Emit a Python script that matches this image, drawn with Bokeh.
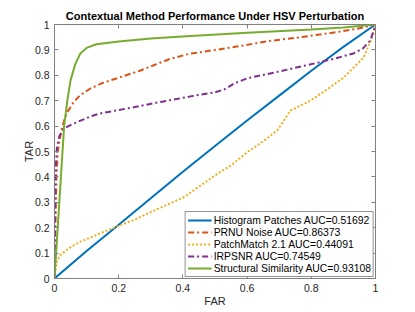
from bokeh.plotting import figure
from bokeh.models import Range1d, FixedTicker, LinearAxis
from bokeh.embed import file_html
from bokeh.resources import INLINE

# ---- data ----
hist_far = [0, 0.1, 0.2, 0.3, 0.4, 0.5, 0.6, 0.7, 0.8, 0.9, 1.0]
hist_tar = [0, 0.108, 0.212, 0.316, 0.42, 0.522, 0.622, 0.72, 0.818, 0.912, 1.0]

prnu_far = [0, 0.003, 0.006, 0.01, 0.02, 0.03, 0.04, 0.06, 0.08, 0.112, 0.15, 0.206,
            0.268, 0.32, 0.361, 0.424, 0.455, 0.558, 0.663, 0.766, 0.88, 0.95, 1.0]
prnu_tar = [0, 0.2, 0.4, 0.5, 0.575, 0.622, 0.655, 0.695, 0.722, 0.748, 0.77, 0.793,
            0.819, 0.845, 0.865, 0.886, 0.891, 0.911, 0.934, 0.95, 0.97, 0.985, 1.0]

pm_far = [0, 0.003, 0.008, 0.02, 0.05, 0.08, 0.112, 0.15, 0.195, 0.25, 0.299, 0.35,
          0.403, 0.455, 0.507, 0.55, 0.6, 0.65, 0.694, 0.735, 0.797, 0.85, 0.9,
          0.963, 0.994, 1.0]
pm_tar = [0, 0.03, 0.071, 0.095, 0.123, 0.145, 0.161, 0.182, 0.205, 0.232, 0.261, 0.29,
          0.32, 0.366, 0.412, 0.445, 0.497, 0.54, 0.583, 0.661, 0.70, 0.745, 0.79,
          0.87, 0.964, 1.0]

irp_far = [0, 0.001, 0.002, 0.004, 0.008, 0.015, 0.029, 0.06, 0.112, 0.143, 0.25, 0.33,
           0.424, 0.455, 0.5, 0.53, 0.56, 0.6, 0.7, 0.807, 0.87, 0.931, 0.96, 0.984, 1.0]
irp_tar = [0, 0.15, 0.3, 0.45, 0.52, 0.56, 0.59, 0.61, 0.638, 0.65, 0.675, 0.695,
           0.717, 0.724, 0.733, 0.745, 0.768, 0.788, 0.815, 0.846, 0.865, 0.886, 0.905,
           0.937, 1.0]

ss_far = [0, 0.01, 0.02, 0.03, 0.04, 0.05, 0.065, 0.08, 0.1, 0.13, 0.2, 0.3, 0.424,
          0.6, 0.8, 0.9, 1.0]
ss_tar = [0, 0.2, 0.4, 0.6, 0.7, 0.78, 0.845, 0.885, 0.908, 0.922, 0.933, 0.945, 0.955,
          0.968, 0.98, 0.988, 1.0]

labels = ["Histogram Patches AUC=0.51692", "PRNU Noise AUC=0.86373",
          "PatchMatch 2.1 AUC=0.44091", "IRPSNR AUC=0.74549",
          "Structural Similarity AUC=0.93108"]
colors = ["#0072BD", "#D95319", "#EDB120", "#7E2F8E", "#77AC30"]
dashes = ["solid", "6 3 2 3", "2 2", "6 3 2 3", "solid"]

x_ticks = [0, 0.2, 0.4, 0.6, 0.8, 1.0]
x_tick_labels = ["0", "0.2", "0.4", "0.6", "0.8", "1"]
y_ticks = [0, 0.1, 0.2, 0.3, 0.4, 0.5, 0.6, 0.7, 0.8, 0.9, 1.0]
y_tick_labels = ["0", "0.1", "0.2", "0.3", "0.4", "0.5", "0.6", "0.7", "0.8", "0.9", "1"]

FONT = "Liberation Sans"
AX = "#808080"
TXT = "#262626"

p = figure(width=415, height=312, output_backend="svg", toolbar_location=None,
           x_range=Range1d(0, 1), y_range=Range1d(0, 1),
           min_border_left=54, min_border_right=40, min_border_top=24, min_border_bottom=34,
           title="Contextual Method Performance Under HSV Perturbation")
p.background_fill_color = "white"
p.border_fill_color = "white"
p.outline_line_color = AX
p.grid.visible = False

p.title.text_font = FONT
p.title.text_font_size = "11px"
p.title.text_font_style = "bold"
p.title.text_color = "black"
p.title.align = "center"
p.title.standoff = 6
p.title.offset = 0

def style_axis(ax, ticks, tick_labels, show_labels=True):
    ax.ticker = FixedTicker(ticks=ticks)
    if show_labels:
        ax.major_label_overrides = {t: l for t, l in zip(ticks, tick_labels)}
    else:
        ax.major_label_overrides = {t: "" for t in ticks}
    ax.major_tick_in = 4
    ax.major_tick_out = 0
    ax.minor_tick_in = 0
    ax.minor_tick_out = 0
    ax.axis_line_color = AX
    ax.major_tick_line_color = AX
    ax.major_label_text_font = FONT
    ax.major_label_text_font_size = "10.5px" if show_labels else "1px"
    ax.major_label_text_color = TXT
    ax.major_label_standoff = 5 if show_labels else 0

style_axis(p.xaxis[0], x_ticks, x_tick_labels)
style_axis(p.yaxis[0], y_ticks, y_tick_labels)
p.xaxis[0].axis_label = "FAR"
p.yaxis[0].axis_label = "TAR"
for ax in (p.xaxis[0], p.yaxis[0]):
    ax.axis_label_text_font = FONT
    ax.axis_label_text_font_size = "11px"
    ax.axis_label_text_font_style = "normal"
    ax.axis_label_text_color = TXT
p.xaxis[0].axis_label_standoff = 0
p.yaxis[0].axis_label_standoff = -3

top = LinearAxis()
style_axis(top, x_ticks, x_tick_labels, show_labels=False)
p.add_layout(top, "above")
right = LinearAxis()
style_axis(right, y_ticks, y_tick_labels, show_labels=False)
p.add_layout(right, "right")

series = [(hist_far, hist_tar), (prnu_far, prnu_tar), (pm_far, pm_tar),
          (irp_far, irp_tar), (ss_far, ss_tar)]
for (xs, ys), lab, c, d in zip(series, labels, colors, dashes):
    p.line(xs, ys, line_color=c, line_width=2, line_dash=d, legend_label=lab)

lg = p.legend[0]
lg.location = "bottom_right"
lg.margin = 1
lg.padding = 2
lg.spacing = 0
lg.label_height = 12
lg.glyph_height = 12
lg.glyph_width = 24
lg.label_standoff = 2
lg.label_text_font = FONT
lg.label_text_font_size = "10.4px"
lg.label_text_color = "black"
lg.border_line_color = TXT
lg.border_line_width = 1
lg.background_fill_color = "white"
lg.background_fill_alpha = 1.0

open("out.html", "w").write(file_html(p, INLINE))
